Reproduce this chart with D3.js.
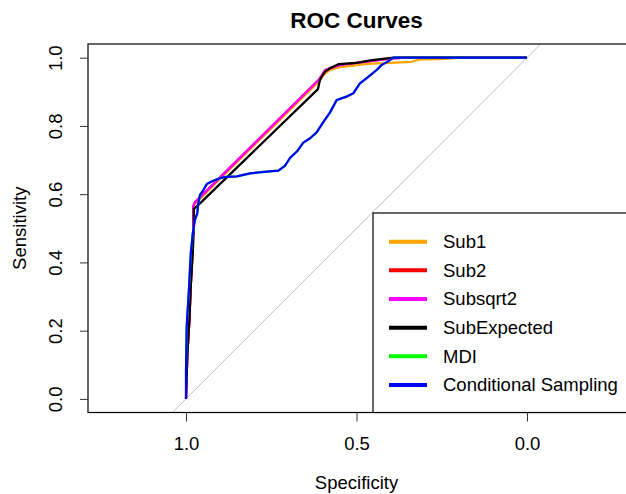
<!DOCTYPE html>
<html>
<head>
<meta charset="utf-8">
<script src="https://cdn.jsdelivr.net/npm/d3@7"></script>
<style>
  body { margin: 0; background: #fff; }
  svg text { font-family: "Liberation Sans", Arial, sans-serif; }
</style>
</head>
<body>
<div id="draw_here"></div>

<script type="text/javascript">
    // Data: [specificity, sensitivity]
    sub1 = [[1,0],[0.996,0.13],[0.99,0.23],[0.986,0.33],[0.98,0.43],[0.978,0.5],[0.978,0.565],
        [0.973,0.573],[0.61,0.93],[0.598,0.948],[0.578,0.964],[0.548,0.972],[0.509,0.977],[0.47,0.982],
        [0.402,0.985],[0.338,0.988],[0.314,0.995],[0.255,0.996],[0.211,0.999],[0.2,1],[0,1]]
    sub2 = [[1,0],[0.996,0.13],[0.99,0.23],[0.986,0.33],[0.981,0.43],[0.979,0.5],[0.979,0.565],
        [0.974,0.576],[0.61,0.936],[0.592,0.964],[0.548,0.979],[0.46,0.99],[0.396,0.998],[0.352,1],[0,1]]
    subsqrt2 = [[1,0],[0.996,0.13],[0.99,0.23],[0.986,0.33],[0.981,0.43],[0.979,0.5],[0.979,0.565],
        [0.974,0.576],[0.61,0.936],[0.592,0.964],[0.548,0.979],[0.46,0.99],[0.396,0.998],[0.352,1],[0,1]]
    subExpected = [[1,0],[0.996,0.13],[0.99,0.23],[0.986,0.33],[0.98,0.43],[0.977,0.5],[0.977,0.557],
        [0.959,0.573],[0.613,0.908],[0.607,0.935],[0.602,0.944],[0.592,0.959],[0.578,0.969],
        [0.553,0.981],[0.499,0.985],[0.455,0.993],[0.39,1],[0,1]]
    condSampling = [[1,0],[1,0.085],[0.998,0.212],[0.991,0.329],[0.986,0.427],[0.98,0.485],
        [0.974,0.524],[0.967,0.544],[0.964,0.573],[0.959,0.598],[0.949,0.612],[0.939,0.63],
        [0.925,0.637],[0.9,0.647],[0.881,0.651],[0.851,0.652],[0.812,0.661],[0.763,0.666],
        [0.729,0.669],[0.71,0.683],[0.695,0.706],[0.675,0.725],[0.656,0.751],[0.636,0.764],
        [0.617,0.781],[0.597,0.812],[0.578,0.839],[0.558,0.876],[0.529,0.886],[0.509,0.896],
        [0.49,0.925],[0.47,0.94],[0.441,0.964],[0.426,0.979],[0.411,0.987],[0.402,0.993],
        [0.392,1],[0,1]]
    // MDI is not visible in the picture: it sits under the Conditional Sampling curve
    mdi = condSampling

    seriesNames = ["Sub1", "Sub2", "Subsqrt2", "SubExpected", "MDI", "Conditional Sampling"]
    seriesColors = ["#FFA500", "#FF0000", "#FF00FF", "#000000", "#00FF00", "#0000FF"]
    seriesData = [sub1, sub2, subsqrt2, subExpected, mdi, condSampling]

    xTicks = [1.0, 0.5, 0.0]
    yTicks = [0.0, 0.2, 0.4, 0.6, 0.8, 1.0]

    // Layout
    canvas = ({width: 626, height: 494})
    box = ({left: 88, top: 44, right: 627, bottom: 412.5})
    fontSize = 18.5

    x = d3.scaleLinear().domain([1, 0]).range([186, 527])
    y = d3.scaleLinear().domain([0, 1]).range([398.9, 57.7])

    var svg = d3.select("div#draw_here").append("svg")
        .attr("width", canvas.width)
        .attr("height", canvas.height)
        .attr("viewBox", [0, 0, canvas.width, canvas.height]);

    svg.append("clipPath").attr("id", "plotclip")
        .append("rect")
        .attr("x", box.left).attr("y", box.top)
        .attr("width", box.right - box.left).attr("height", box.bottom - box.top)

    plot = svg.append("g").attr("clip-path", "url(#plotclip)")

    // chance diagonal
    plot.append("line")
        .attr("x1", x(1.3)).attr("y1", y(-0.3))
        .attr("x2", x(-0.3)).attr("y2", y(1.3))
        .attr("stroke", "#BEBEBE")
        .attr("stroke-width", 1)

    line = d3.line()
        .x(d => x(d[0]))
        .y(d => y(d[1]))

    seriesData.forEach((data, i) => {
        plot.append("path")
            .attr("fill", "none")
            .attr("stroke", seriesColors[i])
            .attr("stroke-width", 2.2)
            .attr("stroke-linejoin", "round")
            .attr("d", line(data))
    })

    // box
    svg.append("rect")
        .attr("x", box.left).attr("y", box.top)
        .attr("width", box.right - box.left).attr("height", box.bottom - box.top)
        .attr("fill", "none").attr("stroke", "#000").attr("stroke-width", 1.2)

    // axes
    xAxis = g => g
        .attr("transform", `translate(0,${box.bottom})`)
        .call(d3.axisBottom(x).tickValues(xTicks).tickFormat(d3.format(".1f")).tickSize(9).tickPadding(15))
        .call(g => g.select(".domain").remove())

    yAxis = g => g
        .attr("transform", `translate(${box.left},0)`)
        .call(d3.axisLeft(y).tickValues(yTicks).tickFormat(d3.format(".1f")).tickSize(8))
        .call(g => g.select(".domain").remove())

    gx = svg.append("g").call(xAxis)
    gx.selectAll("text").attr("font-size", fontSize).attr("fill", "#000")
        .attr("font-family", "Liberation Sans, Arial, sans-serif")
    gx.selectAll("line").attr("stroke", "#333")

    gy = svg.append("g").call(yAxis)
    gy.selectAll("line").attr("stroke", "#333")
    gy.selectAll("text")
        .attr("font-size", fontSize).attr("fill", "#000")
        .attr("font-family", "Liberation Sans, Arial, sans-serif")
        .attr("x", null).attr("dy", null)
        .attr("text-anchor", "middle")
        .attr("transform", "translate(-26,0) rotate(-90)")

    // titles
    svg.append("text")
        .attr("x", (box.left + 625) / 2).attr("y", 28)
        .attr("text-anchor", "middle")
        .attr("font-size", 22.5).attr("font-weight", "bold")
        .text("ROC Curves")

    svg.append("text")
        .attr("x", (box.left + 625) / 2).attr("y", 489)
        .attr("text-anchor", "middle")
        .attr("font-size", fontSize)
        .text("Specificity")

    svg.append("text")
        .attr("transform", `translate(26,${(box.top + box.bottom) / 2}) rotate(-90)`)
        .attr("text-anchor", "middle")
        .attr("font-size", fontSize)
        .text("Sensitivity")

    // legend
    legend = svg.append("g")
    legend.append("rect")
        .attr("x", 373).attr("y", 213)
        .attr("width", box.right - 373).attr("height", box.bottom - 213)
        .attr("fill", "#fff").attr("stroke", "#000").attr("stroke-width", 1.2)

    legendRow = d3.scaleLinear().domain([0, 5]).range([241.7, 385])

    seriesNames.forEach((name, i) => {
        legend.append("line")
            .attr("x1", 389).attr("x2", 427)
            .attr("y1", legendRow(i)).attr("y2", legendRow(i))
            .attr("stroke", seriesColors[i])
            .attr("stroke-width", 4)
        legend.append("text")
            .attr("x", 443).attr("y", legendRow(i))
            .attr("dy", "0.35em")
            .attr("font-size", fontSize)
            .text(name)
    })
</script>
</body>
</html>
